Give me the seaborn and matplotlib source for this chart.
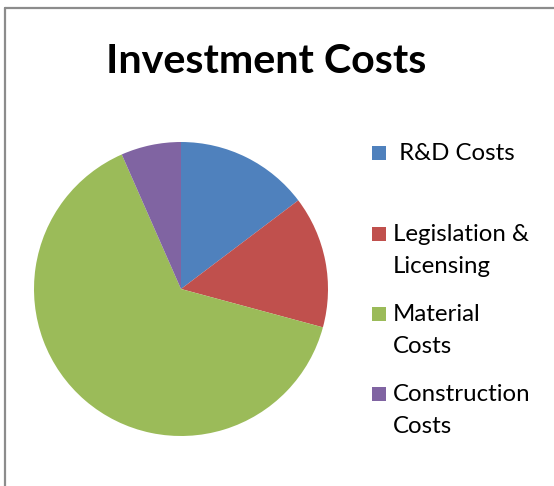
import matplotlib
matplotlib.use("Agg")
import matplotlib.pyplot as plt
from matplotlib.patches import Rectangle
from matplotlib.lines import Line2D
import seaborn as sns

categories = ["R&D Costs", "Legislation &\nLicensing", "Material\nCosts", "Construction\nCosts"]
legend_labels = [" R&D Costs", "Legislation &\nLicensing", "Material\nCosts", "Construction\nCosts"]
values = [14.7, 14.5, 64.2, 6.6]
colors = ["#4F81BD", "#C0504D", "#9BBB59", "#8064A2"]
title = "Investment Costs"

sns.set_theme(style="white")
plt.rcParams["font.family"] = ["Lato", "DejaVu Sans"]

W, H = 554, 486
fig = plt.figure(figsize=(W / 100, H / 100), dpi=100)
fig.patch.set_facecolor("white")

# pie axes: center (181, 289), radius 147 px
cx, cy, r = 181, 289, 147
ax = fig.add_axes([(cx - r) / W, (H - cy - r) / H, 2 * r / W, 2 * r / H])
ax.pie(values, colors=colors, startangle=90, counterclock=False, radius=1,
       wedgeprops=dict(linewidth=0, edgecolor="none"))
ax.set_xlim(-1, 1)
ax.set_ylim(-1, 1)
ax.set_aspect("equal")
ax.axis("off")

# title
fig.text(266.5 / W, 1 - 73 / H, title, ha="center", va="baseline",
         fontsize=29.7, fontweight="bold", color="black")

# legend (manual, first-line aligned)
sq = 14
baselines = [160, 241, 321, 401]
for lab, col, bl in zip(legend_labels, colors, baselines):
    fig.patches.append(Rectangle((371.5 / W, 1 - bl / H), sq / W, sq / H,
                                 transform=fig.transFigure, facecolor=col,
                                 edgecolor="none"))
    lines = lab.split("\n")
    for i, ln in enumerate(lines):
        fig.text(393 / W, 1 - (bl + 32 * i) / H, ln, ha="left", va="baseline",
                 fontsize=17.3, color="black")

# frame border (top and left)
fig.lines.append(Line2D([5 / W, 1], [1 - 8 / H, 1 - 8 / H], transform=fig.transFigure,
                        color="#8c8c8c", linewidth=1.6))
fig.lines.append(Line2D([5 / W, 5 / W], [0, 1 - 8 / H], transform=fig.transFigure,
                        color="#8c8c8c", linewidth=1.6))

fig.savefig("out.png", dpi=100)
